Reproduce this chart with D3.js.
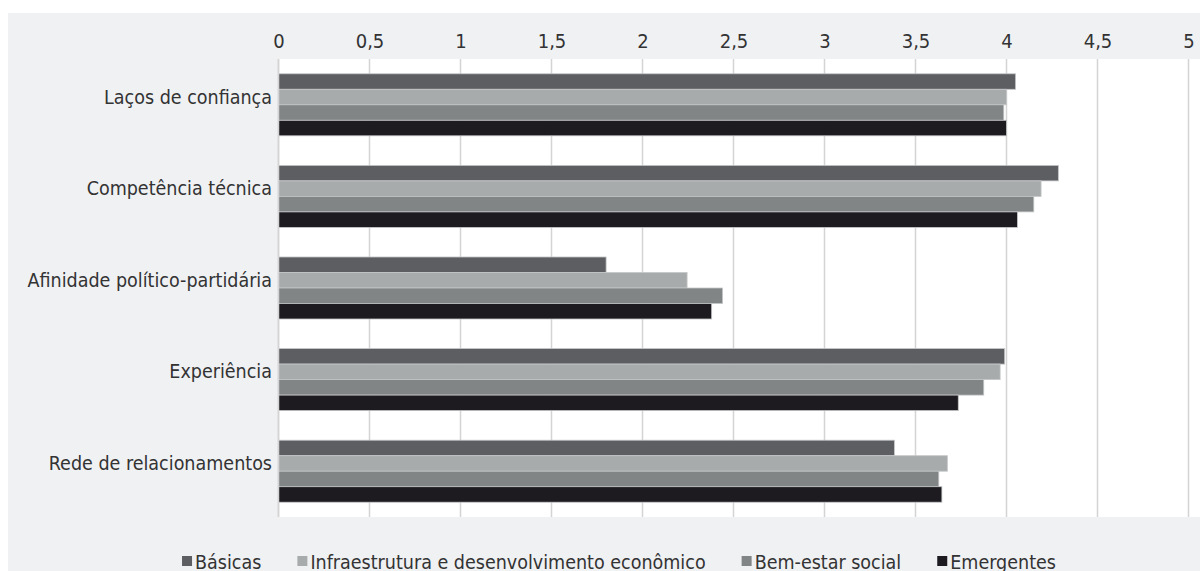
<!DOCTYPE html>
<html>
<head>
<meta charset="utf-8">
<script src="https://cdn.jsdelivr.net/npm/d3@7"></script>
<style>
  html, body { margin: 0; padding: 0; background: #fff; }
  svg text { font-family: "Liberation Sans Narrow", "DejaVu Sans Condensed", sans-serif; fill: #333; }
</style>
</head>
<body>
<svg id="chart" width="1200" height="571"></svg>
<script>
var categories = ['Laços de confiança', 'Competência técnica', 'Afinidade político-partidária', 'Experiência', 'Rede de relacionamentos'];
var seriesNames = ['Básicas', 'Infraestrutura e desenvolvimento econômico', 'Bem-estar social', 'Emergentes'];
var basicas = [4.05, 4.285, 1.80, 3.99, 3.384];
var infraestrutura = [4.0, 4.19, 2.245, 3.965, 3.675];
var bemEstar = [3.985, 4.15, 2.44, 3.875, 3.628];
var emergentes = [4.0, 4.06, 2.38, 3.735, 3.645];
var tickValues = [0, 0.5, 1, 1.5, 2, 2.5, 3, 3.5, 4, 4.5, 5];
var colors = ['#5d5e62', '#a8abac', '#818586', '#1d1b20'];

var series = [basicas, infraestrutura, bemEstar, emergentes];

var svg = d3.select('#chart');
var W = 1200, H = 571;
var plot = {left: 279, top: 59, right: 1200, bottom: 517};

// outer gray panel
svg.append('rect')
	.attr('x', 8).attr('y', 13)
	.attr('width', W - 8).attr('height', H - 13)
	.attr('fill', '#f0f1f3');

// white plot area
svg.append('rect')
	.attr('x', plot.left).attr('y', plot.top)
	.attr('width', plot.right - plot.left).attr('height', plot.bottom - plot.top)
	.attr('fill', '#fff');

var x = d3.scaleLinear().domain([0, 5]).range([278.5, 1188.5]);

var y = d3.scaleBand()
	.domain(categories)
	.range([plot.top, plot.bottom])
	.paddingInner(0.323)
	.paddingOuter(0.1615);

var ySub = d3.scaleBand()
	.domain(d3.range(seriesNames.length))
	.range([0, y.bandwidth()]);

// gridlines
svg.append('g').selectAll('line')
	.data(tickValues)
	.enter()
	.append('line')
	.attr('x1', function (d) { return x(d); })
	.attr('x2', function (d) { return x(d); })
	.attr('y1', plot.top)
	.attr('y2', plot.bottom)
	.attr('stroke', '#d4d4d4')
	.attr('stroke-width', 1.5);

// top axis labels
var fmt = function (d) { return String(d).replace('.', ','); };
var xAxis = d3.axisTop(x).tickValues(tickValues).tickFormat(fmt).tickSize(0).tickPadding(0);
var gx = svg.append('g')
	.attr('transform', 'translate(0,48)')
	.call(xAxis);
gx.select('.domain').remove();
gx.selectAll('text')
	.attr('dy', 0)
	.style('font-size', '20px')
	.style('fill', '#333');

// bars
var groups = svg.append('g').selectAll('g')
	.data(categories)
	.enter()
	.append('g')
	.attr('transform', function (d) { return 'translate(0,' + y(d) + ')'; });

groups.selectAll('rect')
	.data(function (d, i) {
		return series.map(function (s, j) { return {k: j, v: s[i]}; });
	})
	.enter()
	.append('rect')
	.attr('x', x(0))
	.attr('y', function (d) { return ySub(d.k); })
	.attr('width', function (d) { return x(d.v) - x(0); })
	.attr('height', ySub.bandwidth())
	.attr('fill', function (d) { return colors[d.k]; })
	.attr('stroke', '#c4c6c7')
	.attr('stroke-width', 0.8);

// category labels
var yAxis = d3.axisLeft(y).tickSize(0).tickPadding(7);
var gy = svg.append('g')
	.attr('transform', 'translate(' + 279 + ',0)')
	.call(yAxis);
gy.select('.domain').remove();
gy.selectAll('text')
	.attr('dy', '0.35em')
	.attr('y', -8)
	.style('font-size', '19.5px')
	.style('fill', '#333');

// axis line at zero
svg.append('line')
	.attr('x1', x(0)).attr('x2', x(0))
	.attr('y1', plot.top).attr('y2', plot.bottom)
	.attr('stroke', '#d4d4d4')
	.attr('stroke-width', 1.5);

// legend
var legend = svg.append('g');
var lx = 0;
seriesNames.forEach(function (name, i) {
	var g = legend.append('g');
	g.append('rect')
		.attr('x', 0).attr('y', -13)
		.attr('width', 10).attr('height', 10)
		.attr('fill', colors[i]);
	var t = g.append('text')
		.attr('x', 13).attr('y', 0)
		.style('font-size', '19.5px')
		.text(name);
	var w = 13 + t.node().getComputedTextLength();
	g.attr('transform', 'translate(' + lx + ',0)');
	lx += w + 36;
});
var total = lx - 36;
legend.attr('transform', 'translate(' + (619 - total / 2) + ',569)');
</script>
</body>
</html>
